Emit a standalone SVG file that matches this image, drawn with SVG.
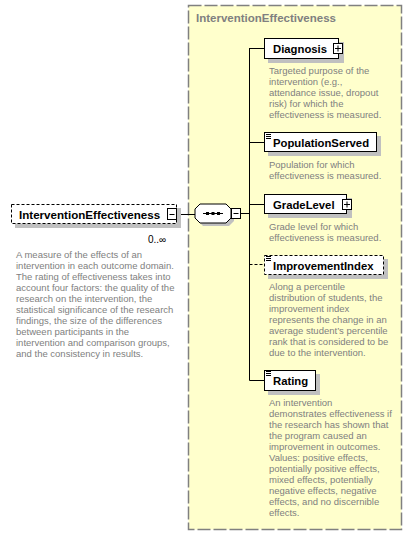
<svg xmlns="http://www.w3.org/2000/svg" width="413" height="535" viewBox="0 0 413 535">
<style>
.name{font-family:"Liberation Sans",Arial,sans-serif;font-weight:bold;font-size:11.3px;fill:#000}
.title{font-family:"Liberation Sans",Arial,sans-serif;font-weight:bold;font-size:11.5px;fill:#808080}
.desc{font-family:"Liberation Sans",Arial,sans-serif;font-size:9.5px;fill:#808080}
.box{fill:#fff;stroke:#000;stroke-width:1}
.dbox{fill:#fff;stroke:#000;stroke-width:1;stroke-dasharray:3,2}
.shadow{fill:#c0c0c0}
.conn{stroke:#000;stroke-width:1;fill:none}
.pm{fill:#fff;stroke:#000;stroke-width:1}
</style>
<rect x="0" y="0" width="413" height="535" fill="#fff"/>
<g id="container">
<rect x="188.5" y="5.5" width="213" height="524" fill="#ffffcc" stroke="#808080" stroke-width="1.5" stroke-dasharray="13,3"/>
<text class="title" x="196" y="22">InterventionEffectiveness</text>
</g>
<g id="connectors">
<line class="conn" x1="177" y1="214.5" x2="195" y2="214.5"/>
<line class="conn" x1="240" y1="213.5" x2="249.5" y2="213.5"/>
<line class="conn" x1="249.5" y1="48" x2="249.5" y2="380.5"/>
<line class="conn" x1="249.5" y1="48.5" x2="264" y2="48.5"/>
<line class="conn" x1="249.5" y1="142.5" x2="264" y2="142.5"/>
<line class="conn" x1="249.5" y1="204.5" x2="264" y2="204.5"/>
<line class="conn" x1="249.5" y1="264.5" x2="264" y2="264.5" stroke-dasharray="3,2"/>
<line class="conn" x1="249.5" y1="380.5" x2="264" y2="380.5"/>
</g>
<g id="InterventionEffectiveness">
<rect class="shadow" x="15" y="208" width="166" height="20"/>
<rect class="dbox" x="11.5" y="204.5" width="165" height="19"/>
<text class="name" x="19" y="218.5" style="font-size:11.6px">InterventionEffectiveness</text>
<rect class="pm" x="167.5" y="208.5" width="9" height="11"/>
<line class="conn" x1="169.5" y1="214.5" x2="174.5" y2="214.5"/>
<text x="148" y="243" font-family="Liberation Sans,Arial,sans-serif" font-size="10" fill="#000">0..∞</text>
<text class="desc">
<tspan x="16" y="258">A measure of the effects of an</tspan>
<tspan x="16" y="269">intervention in each outcome domain.</tspan>
<tspan x="16" y="280">The rating of effectiveness takes into</tspan>
<tspan x="16" y="291">account four factors: the quality of the</tspan>
<tspan x="16" y="302">research on the intervention, the</tspan>
<tspan x="16" y="313">statistical significance of the research</tspan>
<tspan x="16" y="324">findings, the size of the differences</tspan>
<tspan x="16" y="335">between participants in the</tspan>
<tspan x="16" y="346">intervention and comparison groups,</tspan>
<tspan x="16" y="357">and the consistency in results.</tspan>
</text>
</g>
<g id="sequence">
<polygon class="shadow" points="203,207 229,207 234,212 234,221 229,226 203,226 198,221 198,212"/>
<polygon points="200,204 226,204 231,209 231,218 226,223 200,223 195,218 195,209" fill="#fff" stroke="#000" stroke-width="1"/>
<line class="conn" x1="203" y1="213.5" x2="223" y2="213.5"/>
<rect x="206" y="212" width="3" height="3" fill="#000"/>
<rect x="211.5" y="212" width="3" height="3" fill="#000"/>
<rect x="217" y="212" width="3" height="3" fill="#000"/>
<rect class="pm" x="231.5" y="208.5" width="9" height="10"/>
<line class="conn" x1="233.5" y1="213.5" x2="238.5" y2="213.5"/>
</g>
<g id="Diagnosis">
<rect class="shadow" x="268" y="42" width="76" height="21"/>
<rect class="box" x="264.5" y="38.5" width="74" height="20"/>
<text class="name" x="273" y="53">Diagnosis</text>
<rect class="pm" x="333.5" y="43.5" width="9" height="10"/>
<line class="conn" x1="335" y1="48.5" x2="341" y2="48.5"/>
<line class="conn" x1="338" y1="45.5" x2="338" y2="51.5"/>
<text class="desc">
<tspan x="269" y="74">Targeted purpose of the</tspan>
<tspan x="269" y="85">intervention (e.g.,</tspan>
<tspan x="269" y="96">attendance issue, dropout</tspan>
<tspan x="269" y="107">risk) for which the</tspan>
<tspan x="269" y="118">effectiveness is measured.</tspan>
</text>
</g>
<g id="PopulationServed">
<rect class="shadow" x="268" y="136" width="113" height="20"/>
<rect class="box" x="264.5" y="132.5" width="112" height="19"/>
<path d="M266 134.5h5M266 136.5h5M266 138.5h5" stroke="#000" stroke-width="1"/>
<text class="name" x="273" y="147">PopulationServed</text>
<text class="desc">
<tspan x="269" y="168">Population for which</tspan>
<tspan x="269" y="179">effectiveness is measured.</tspan>
</text>
</g>
<g id="GradeLevel">
<rect class="shadow" x="268" y="198" width="84" height="20"/>
<rect class="box" x="264.5" y="194.5" width="82" height="19"/>
<text class="name" x="273" y="209">GradeLevel</text>
<rect class="pm" x="342.5" y="199.5" width="9" height="10"/>
<line class="conn" x1="344" y1="204.5" x2="350" y2="204.5"/>
<line class="conn" x1="347" y1="201.5" x2="347" y2="207.5"/>
<text class="desc">
<tspan x="269" y="230">Grade level for which</tspan>
<tspan x="269" y="241">effectiveness is measured.</tspan>
</text>
</g>
<g id="ImprovementIndex">
<rect class="shadow" x="268" y="259" width="120" height="20"/>
<rect class="dbox" x="264.5" y="255.5" width="119" height="19"/>
<path d="M266 256.5h5M266 258.5h5M266 260.5h5" stroke="#000" stroke-width="1"/>
<text class="name" x="273" y="270">ImprovementIndex</text>
<text class="desc">
<tspan x="269" y="290">Along a percentile</tspan>
<tspan x="269" y="301">distribution of students, the</tspan>
<tspan x="269" y="312">improvement index</tspan>
<tspan x="269" y="323">represents the change in an</tspan>
<tspan x="269" y="334">average student’s percentile</tspan>
<tspan x="269" y="345">rank that is considered to be</tspan>
<tspan x="269" y="356">due to the intervention.</tspan>
</text>
</g>
<g id="Rating">
<rect class="shadow" x="268" y="374" width="52" height="21"/>
<rect class="box" x="264.5" y="370.5" width="51" height="20"/>
<path d="M266 371.5h5M266 373.5h5M266 375.5h5" stroke="#000" stroke-width="1"/>
<text class="name" x="273" y="385">Rating</text>
<text class="desc">
<tspan x="269" y="406">An intervention</tspan>
<tspan x="269" y="417">demonstrates effectiveness if</tspan>
<tspan x="269" y="428">the research has shown that</tspan>
<tspan x="269" y="439">the program caused an</tspan>
<tspan x="269" y="450">improvement in outcomes.</tspan>
<tspan x="269" y="461">Values: positive effects,</tspan>
<tspan x="269" y="472">potentially positive effects,</tspan>
<tspan x="269" y="483">mixed effects, potentially</tspan>
<tspan x="269" y="494">negative effects, negative</tspan>
<tspan x="269" y="505">effects, and no discernible</tspan>
<tspan x="269" y="516">effects.</tspan>
</text>
</g>
</svg>
